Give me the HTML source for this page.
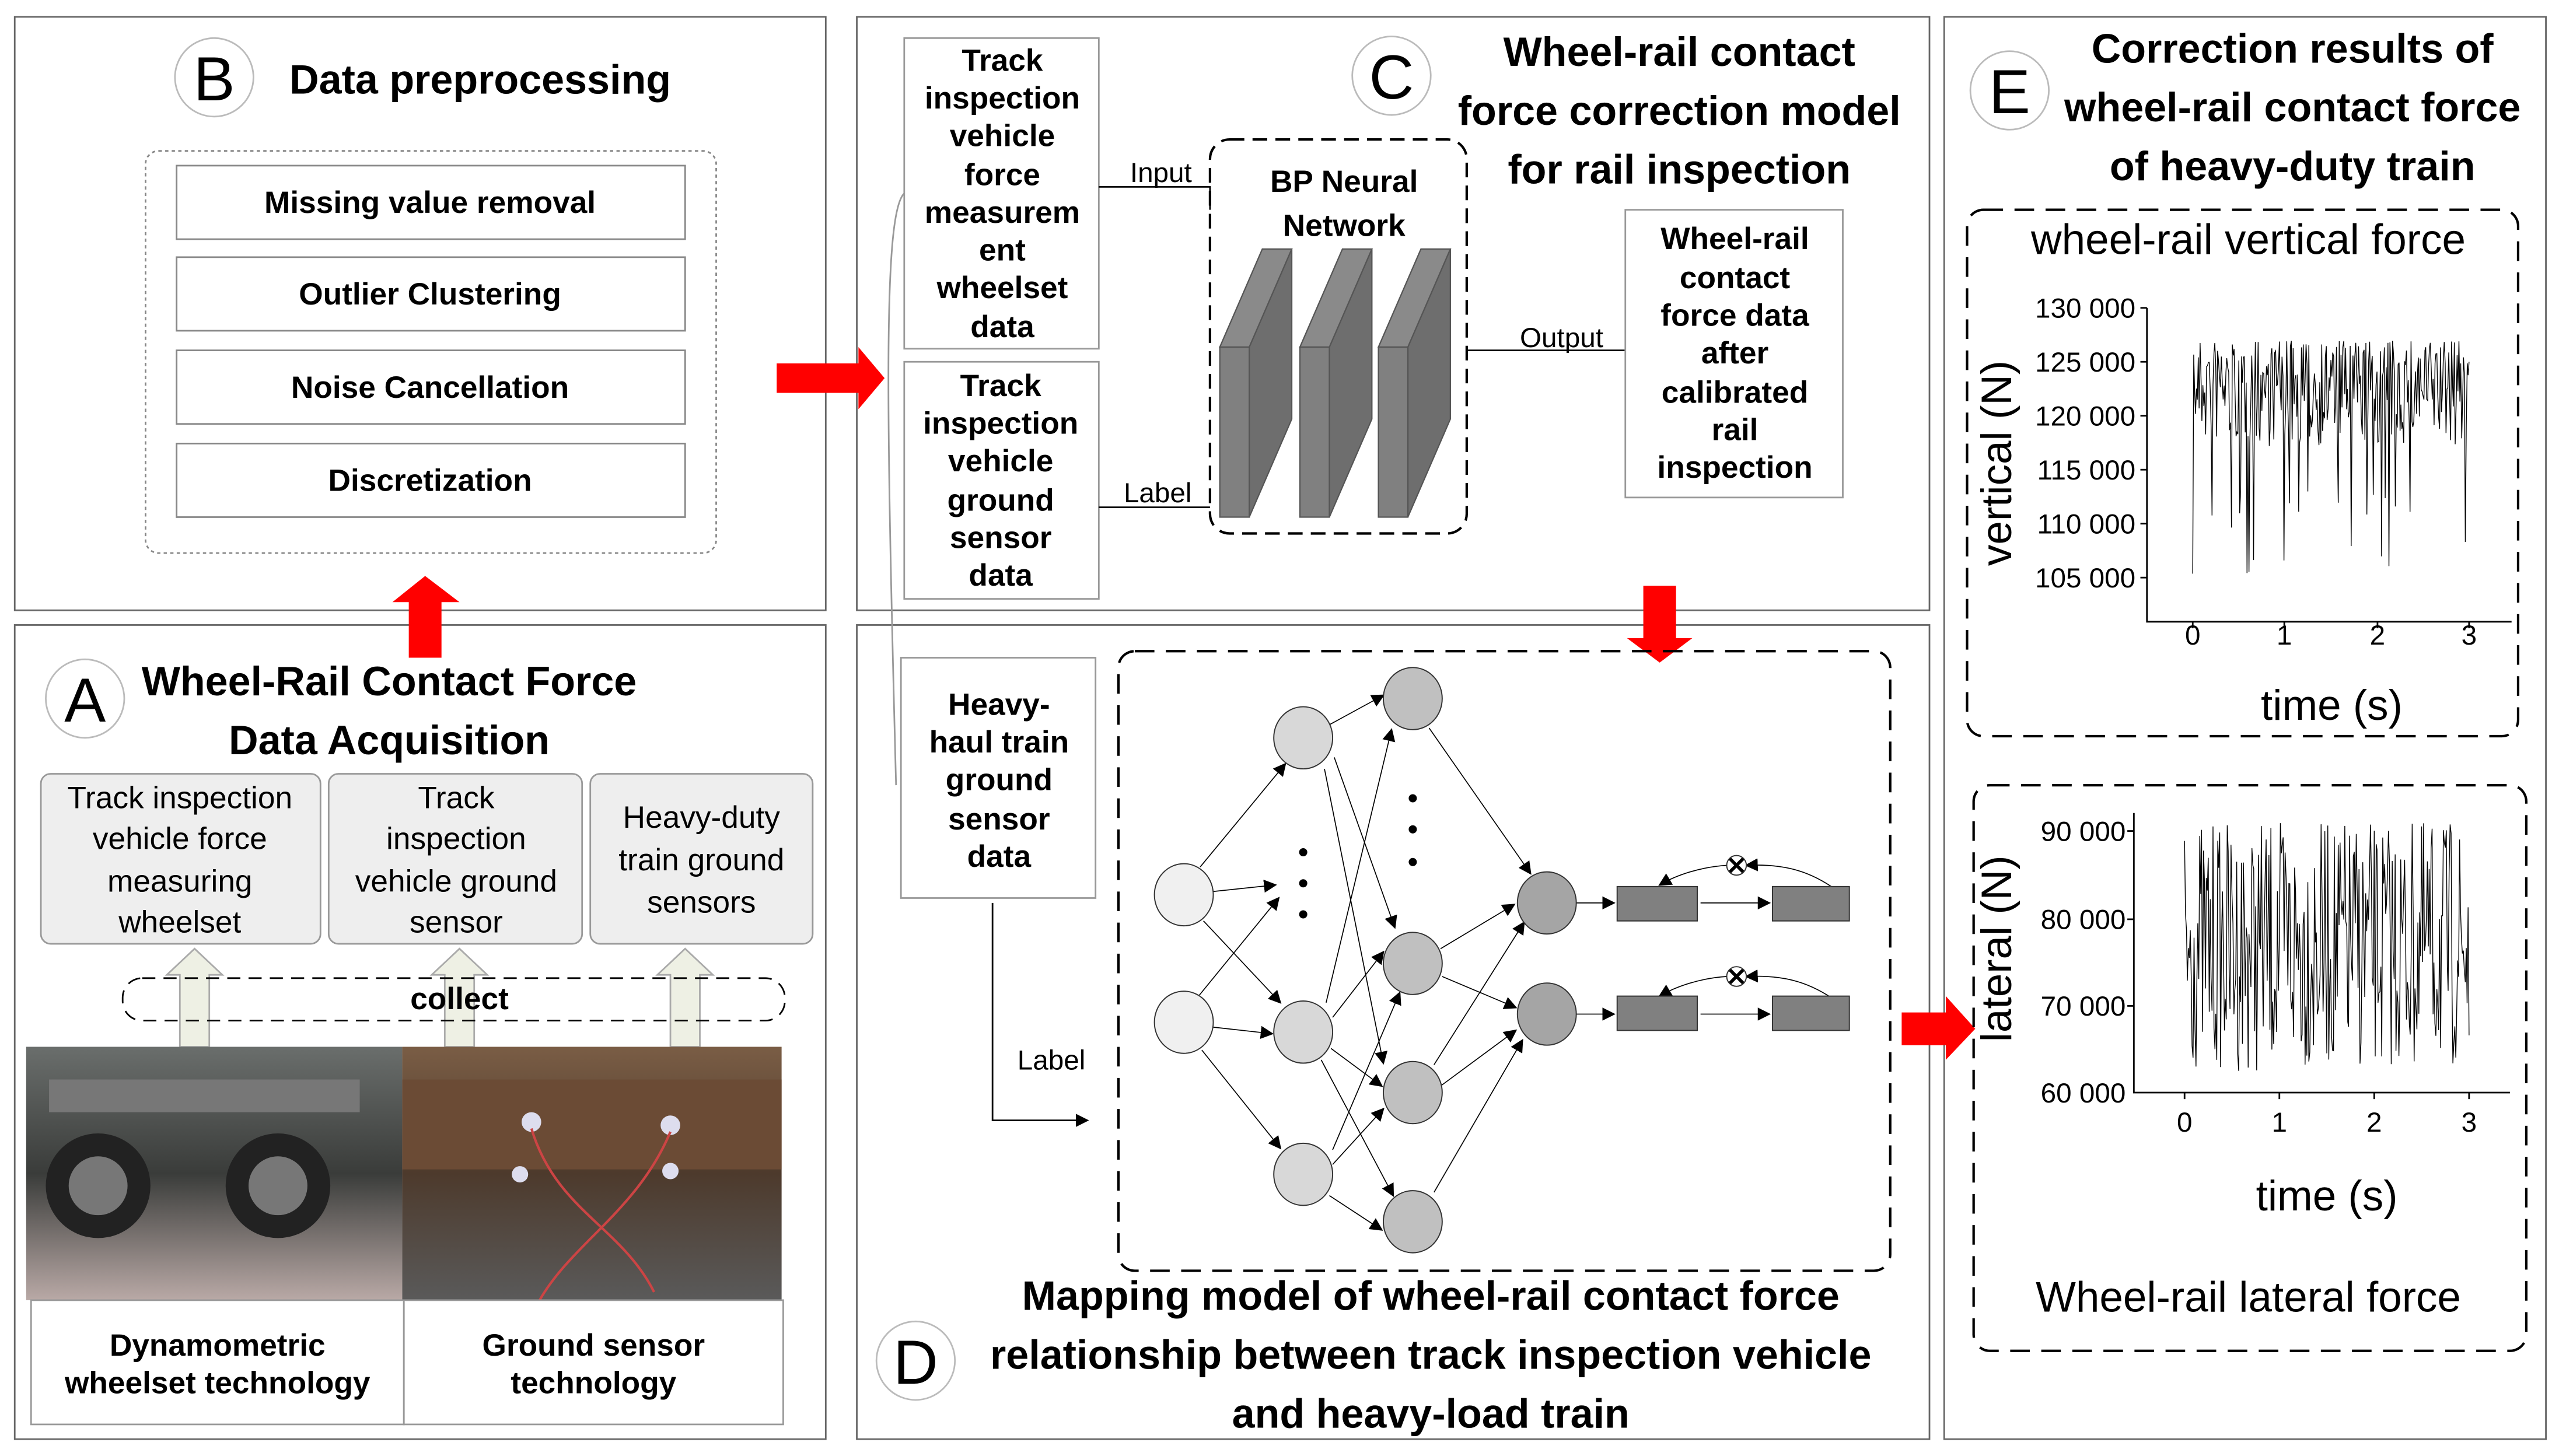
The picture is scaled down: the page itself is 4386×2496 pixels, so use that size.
<!DOCTYPE html>
<html><head><meta charset="utf-8"><style>
html,body{margin:0;padding:0;background:#fff}
svg{display:block}
text{font-family:"Liberation Sans","DejaVu Sans",sans-serif;fill:#000}
.b{font-weight:bold}
</style></head><body>
<svg id="s" width="4386" height="2496" viewBox="0 0 1565 890" xmlns="http://www.w3.org/2000/svg">
<defs>
<marker id="ar" markerWidth="8" markerHeight="8" refX="7" refY="4" orient="auto" markerUnits="userSpaceOnUse"><path d="M0,0 L8,4 L0,8 z" fill="#000"/></marker>
<linearGradient id="p1" x1="0" y1="0" x2="0" y2="1"><stop offset="0" stop-color="#6a6e6c"/><stop offset="0.5" stop-color="#3a3c3a"/><stop offset="1" stop-color="#b9a9a6"/></linearGradient>
<linearGradient id="p2" x1="0" y1="0" x2="0" y2="1"><stop offset="0" stop-color="#7a5d45"/><stop offset="0.5" stop-color="#4d3a2c"/><stop offset="1" stop-color="#5a5a5a"/></linearGradient>
</defs>
<rect width="1565" height="890" fill="#fff"/>
<g fill="none" stroke="#666" stroke-width="1">
<rect x="9" y="10" width="496" height="363"/>
<rect x="9" y="382" width="496" height="498"/>
<rect x="524" y="10" width="656" height="363"/>
<rect x="524" y="382" width="656" height="498"/>
<rect x="1189" y="10" width="368" height="870"/>
</g>
<!-- B -->
<circle cx="131" cy="47" r="24" fill="#fff" stroke="#bbb"/>
<text x="131" y="61" font-size="38" text-anchor="middle" font-family="Liberation Serif">B</text>
<text x="177" y="57" class="b" font-size="25">Data preprocessing</text>
<rect x="89" y="92" width="349" height="246" rx="8" fill="none" stroke="#888" stroke-dasharray="2,2"/>
<g fill="#fff" stroke="#888">
<rect x="108" y="101" width="311" height="45"/><rect x="108" y="157" width="311" height="45"/>
<rect x="108" y="214" width="311" height="45"/><rect x="108" y="271" width="311" height="45"/></g>
<g class="b" font-size="19" text-anchor="middle">
<text x="263" y="130" class="b">Missing value removal</text><text x="263" y="186" class="b">Outlier Clustering</text>
<text x="263" y="243" class="b">Noise Cancellation</text><text x="263" y="300" class="b">Discretization</text></g>
<path d="M250,402 L250,368 L240,368 L260,352 L281,368 L270,368 L270,402 z" fill="#f00"/>
<!-- A -->
<circle cx="52" cy="427" r="24" fill="#fff" stroke="#bbb"/>
<text x="52" y="441" font-size="38" text-anchor="middle" font-family="Liberation Serif">A</text>
<text x="238" y="425" class="b" font-size="25" text-anchor="middle">Wheel-Rail Contact Force</text>
<text x="238" y="461" class="b" font-size="25" text-anchor="middle">Data Acquisition</text>
<g fill="#eee" stroke="#999"><rect x="25" y="473" width="171" height="104" rx="6"/><rect x="201" y="473" width="155" height="104" rx="6"/><rect x="361" y="473" width="136" height="104" rx="6"/></g>
<g font-size="19" text-anchor="middle" fill="#222">
<text x="110" y="494">Track inspection</text><text x="110" y="519">vehicle force</text><text x="110" y="545">measuring</text><text x="110" y="570">wheelset</text>
<text x="279" y="494">Track</text><text x="279" y="519">inspection</text><text x="279" y="545">vehicle ground</text><text x="279" y="570">sensor</text>
<text x="429" y="506">Heavy-duty</text><text x="429" y="532">train ground</text><text x="429" y="558">sensors</text></g>
<g fill="#eef0e4" stroke="#aaa">
<path d="M110,640 L110,596 L102,596 L119,580 L136,596 L128,596 L128,640 z"/>
<path d="M272,640 L272,596 L264,596 L281,580 L298,596 L290,596 L290,640 z"/>
<path d="M410,640 L410,596 L402,596 L419,580 L436,596 L428,596 L428,640 z"/></g>
<rect x="75" y="598" width="405" height="26" rx="12" fill="none" stroke="#000" stroke-dasharray="8,5"/>
<text x="281" y="617" class="b" font-size="19" text-anchor="middle">collect</text>
<rect x="16" y="640" width="230" height="155" fill="url(#p1)"/>
<g fill="#222"><circle cx="60" cy="725" r="32"/><circle cx="170" cy="725" r="32"/></g>
<g fill="#777"><circle cx="60" cy="725" r="18"/><circle cx="170" cy="725" r="18"/><rect x="30" y="660" width="190" height="20"/></g>
<rect x="246" y="640" width="232" height="155" fill="url(#p2)"/>
<rect x="246" y="660" width="232" height="55" fill="#6b4b35"/>
<g fill="#dde"><circle cx="325" cy="686" r="6"/><circle cx="410" cy="688" r="6"/><circle cx="318" cy="718" r="5"/><circle cx="410" cy="716" r="5"/></g>
<g fill="none" stroke="#c44" stroke-width="1.5"><path d="M325,690 C340,740 380,750 400,790"/><path d="M410,692 C390,740 350,760 330,795"/></g>
<g fill="#fff" stroke="#999"><rect x="19" y="795" width="228" height="76"/><rect x="247" y="795" width="232" height="76"/></g>
<g class="b" font-size="19" text-anchor="middle">
<text x="133" y="829" class="b">Dynamometric</text><text x="133" y="852" class="b">wheelset technology</text>
<text x="363" y="829" class="b">Ground sensor</text><text x="363" y="852" class="b">technology</text></g>
<path d="M475,222 L525,222 L525,212 L541,231 L525,250 L525,240 L475,240 z" fill="#f00"/>
<!-- C -->
<path d="M553,118 C540,130 542,250 548,480" fill="none" stroke="#999"/>
<g fill="#fff" stroke="#999"><rect x="553" y="23" width="119" height="190"/><rect x="553" y="221" width="119" height="145"/></g>
<g class="b" font-size="19" text-anchor="middle">
<text x="613" y="43" class="b">Track</text><text x="613" y="66" class="b">inspection</text><text x="613" y="89" class="b">vehicle</text><text x="613" y="113" class="b">force</text><text x="613" y="136" class="b">measurem</text><text x="613" y="159" class="b">ent</text><text x="613" y="182" class="b">wheelset</text><text x="613" y="206" class="b">data</text>
<text x="612" y="242" class="b">Track</text><text x="612" y="265" class="b">inspection</text><text x="612" y="288" class="b">vehicle</text><text x="612" y="312" class="b">ground</text><text x="612" y="335" class="b">sensor</text><text x="612" y="358" class="b">data</text></g>
<path d="M672,114 L740,114 L740,128" fill="none" stroke="#000"/>
<path d="M672,310 L740,310" fill="none" stroke="#000"/>
<text x="710" y="111" font-size="17" text-anchor="middle">Input</text>
<text x="708" y="307" font-size="17" text-anchor="middle">Label</text>
<rect x="740" y="85" width="157" height="241" rx="12" fill="none" stroke="#000" stroke-dasharray="9,5" stroke-width="1.5"/>
<text x="822" y="117" class="b" font-size="19" text-anchor="middle">BP Neural</text>
<text x="822" y="144" class="b" font-size="19" text-anchor="middle">Network</text>
<g id="blk" stroke="#555" stroke-width="0.8">
<polygon points="764,212 790,152 790,256 764,316" fill="#6e6e6e"/>
<polygon points="746,212 772,152 790,152 764,212" fill="#8a8a8a"/>
<rect x="746" y="212" width="18" height="104" fill="#808080"/></g>
<use href="#blk" x="49"/><use href="#blk" x="97"/>
<line x1="897" y1="214" x2="1006" y2="214" stroke="#000" marker-end="url(#ar)"/>
<text x="955" y="212" font-size="17" text-anchor="middle">Output</text>
<rect x="994" y="128" width="133" height="176" fill="#fff" stroke="#999"/>
<g class="b" font-size="19" text-anchor="middle">
<text x="1061" y="152" class="b">Wheel-rail</text><text x="1061" y="176" class="b">contact</text><text x="1061" y="199" class="b">force data</text><text x="1061" y="222" class="b">after</text><text x="1061" y="246" class="b">calibrated</text><text x="1061" y="269" class="b">rail</text><text x="1061" y="292" class="b">inspection</text></g>
<circle cx="851" cy="46" r="24" fill="#fff" stroke="#bbb"/>
<text x="851" y="60" font-size="38" text-anchor="middle" font-family="Liberation Serif">C</text>
<g class="b" font-size="25" text-anchor="middle">
<text x="1027" y="40" class="b">Wheel-rail contact</text><text x="1027" y="76" class="b">force correction model</text><text x="1027" y="112" class="b">for rail inspection</text></g>
<path d="M1005,358 L1025,358 L1025,390 L1035,390 L1015,405 L995,390 L1005,390 z" fill="#f00"/>
<!-- D -->
<rect x="551" y="402" width="119" height="147" fill="#fff" stroke="#999"/>
<g class="b" font-size="19" text-anchor="middle">
<text x="611" y="437" class="b">Heavy-</text><text x="611" y="460" class="b">haul train</text><text x="611" y="483" class="b">ground</text><text x="611" y="507" class="b">sensor</text><text x="611" y="530" class="b">data</text></g>
<path d="M607,552 L607,685 L665,685" fill="none" stroke="#000" marker-end="url(#ar)"/>
<text x="643" y="654" font-size="17" text-anchor="middle">Label</text>
<rect x="684" y="398" width="472" height="379" rx="10" fill="none" stroke="#000" stroke-dasharray="12,7" stroke-width="1.5"/>
<g stroke="#000" stroke-width="0.6" marker-end="url(#ar)" fill="none">
<line x1="734" y1="530" x2="786" y2="467"/><line x1="742" y1="545" x2="780" y2="541"/><line x1="736" y1="563" x2="783" y2="613"/>
<line x1="733" y1="609" x2="782" y2="549"/><line x1="742" y1="628" x2="778" y2="632"/><line x1="735" y1="642" x2="783" y2="702"/>
<line x1="813" y1="443" x2="846" y2="425"/><line x1="816" y1="463" x2="853" y2="567"/><line x1="810" y1="470" x2="846" y2="650"/>
<line x1="811" y1="613" x2="851" y2="446"/><line x1="815" y1="622" x2="846" y2="582"/><line x1="814" y1="641" x2="845" y2="664"/><line x1="808" y1="648" x2="852" y2="731"/>
<line x1="815" y1="703" x2="856" y2="607"/><line x1="815" y1="712" x2="846" y2="678"/><line x1="813" y1="731" x2="845" y2="752"/>
<line x1="874" y1="445" x2="936" y2="534"/><line x1="881" y1="580" x2="926" y2="553"/><line x1="882" y1="597" x2="927" y2="616"/>
<line x1="877" y1="651" x2="932" y2="564"/><line x1="881" y1="664" x2="927" y2="630"/><line x1="877" y1="729" x2="931" y2="636"/>
<line x1="964" y1="552" x2="987" y2="552"/><line x1="964" y1="620" x2="987" y2="620"/>
<line x1="1040" y1="552" x2="1082" y2="552"/><line x1="1040" y1="620" x2="1082" y2="620"/>
<path d="M1120,542 C1105,532 1090,528 1068,529"/><path d="M1056,529 C1040,530 1025,535 1015,541"/>
<path d="M1120,610 C1105,600 1090,596 1068,597"/><path d="M1056,597 C1040,598 1025,603 1015,609"/>
</g>
<g stroke="#333" stroke-width="0.7">
<ellipse cx="724" cy="547" rx="18" ry="19" fill="#f0f0f0"/><ellipse cx="724" cy="625" rx="18" ry="19" fill="#f0f0f0"/>
<ellipse cx="797" cy="451" rx="18" ry="19" fill="#d8d8d8"/><ellipse cx="797" cy="631" rx="18" ry="19" fill="#d8d8d8"/><ellipse cx="797" cy="718" rx="18" ry="19" fill="#d8d8d8"/>
<ellipse cx="864" cy="427" rx="18" ry="19" fill="#c0c0c0"/><ellipse cx="864" cy="589" rx="18" ry="19" fill="#c0c0c0"/><ellipse cx="864" cy="668" rx="18" ry="19" fill="#c0c0c0"/><ellipse cx="864" cy="747" rx="18" ry="19" fill="#c0c0c0"/>
<ellipse cx="946" cy="552" rx="18" ry="19" fill="#a5a5a5"/><ellipse cx="946" cy="620" rx="18" ry="19" fill="#a5a5a5"/>
<rect x="989" y="542" width="49" height="21" fill="#808080"/><rect x="1084" y="542" width="47" height="21" fill="#808080"/>
<rect x="989" y="609" width="49" height="21" fill="#808080"/><rect x="1084" y="609" width="47" height="21" fill="#808080"/>
<circle cx="1062" cy="529" r="6" fill="#fff"/><circle cx="1062" cy="597" r="6" fill="#fff"/></g>
<g stroke="#000" stroke-width="2"><path d="M1058,525 L1066,533 M1066,525 L1058,533"/><path d="M1058,593 L1066,601 M1066,593 L1058,601"/></g>
<g fill="#000"><circle cx="797" cy="521" r="2.5"/><circle cx="797" cy="540" r="2.5"/><circle cx="797" cy="559" r="2.5"/>
<circle cx="864" cy="488" r="2.5"/><circle cx="864" cy="507" r="2.5"/><circle cx="864" cy="527" r="2.5"/></g>
<circle cx="560" cy="832" r="24" fill="#fff" stroke="#bbb"/>
<text x="560" y="846" font-size="38" text-anchor="middle" font-family="Liberation Serif">D</text>
<g class="b" font-size="25" text-anchor="middle">
<text x="875" y="801" class="b">Mapping model of wheel-rail contact force</text>
<text x="875" y="837" class="b">relationship between track inspection vehicle</text>
<text x="875" y="873" class="b">and heavy-load train</text></g>
<path d="M1163,619 L1190,619 L1190,609 L1208,629 L1190,648 L1190,639 L1163,639 z" fill="#f00"/>
<!-- E -->
<circle cx="1229" cy="55" r="24" fill="#fff" stroke="#bbb"/>
<text x="1229" y="69" font-size="38" text-anchor="middle" font-family="Liberation Serif">E</text>
<g class="b" font-size="25" text-anchor="middle">
<text x="1402" y="38" class="b">Correction results of</text><text x="1402" y="74" class="b">wheel-rail contact force</text><text x="1402" y="110" class="b">of heavy-duty train</text></g>
<rect x="1203" y="128" width="337" height="322" rx="10" fill="none" stroke="#000" stroke-dasharray="12,7" stroke-width="1.5"/>
<text x="1375" y="155" font-size="26" text-anchor="middle">wheel-rail vertical force</text>
<path d="M1313,188 L1313,380 L1536,380" fill="none" stroke="#000"/>
<g stroke="#000"><line x1="1309" y1="188" x2="1313" y2="188"/><line x1="1309" y1="221" x2="1313" y2="221"/><line x1="1309" y1="254" x2="1313" y2="254"/><line x1="1309" y1="287" x2="1313" y2="287"/><line x1="1309" y1="320" x2="1313" y2="320"/><line x1="1309" y1="353" x2="1313" y2="353"/>
<line x1="1341" y1="380" x2="1341" y2="384"/><line x1="1397" y1="380" x2="1397" y2="384"/><line x1="1454" y1="380" x2="1454" y2="384"/><line x1="1510" y1="380" x2="1510" y2="384"/></g>
<g font-size="17" text-anchor="end">
<text x="1306" y="194">130 000</text><text x="1306" y="227">125 000</text><text x="1306" y="260">120 000</text><text x="1306" y="293">115 000</text><text x="1306" y="326">110 000</text><text x="1306" y="359">105 000</text></g>
<g font-size="17" text-anchor="middle"><text x="1341" y="394">0</text><text x="1397" y="394">1</text><text x="1454" y="394">2</text><text x="1510" y="394">3</text></g>
<text transform="translate(1230,283) rotate(-90)" font-size="26" text-anchor="middle">vertical (N)</text>
<text x="1426" y="440" font-size="26" text-anchor="middle">time (s)</text>
<polyline id="sig1" fill="none" stroke="#000" stroke-width="0.5" points=""/>
<rect x="1207" y="480" width="338" height="346" rx="10" fill="none" stroke="#000" stroke-dasharray="12,7" stroke-width="1.5"/>
<path d="M1305,497 L1305,668 L1535,668" fill="none" stroke="#000"/>
<g stroke="#000"><line x1="1301" y1="508" x2="1305" y2="508"/><line x1="1301" y1="562" x2="1305" y2="562"/><line x1="1301" y1="615" x2="1305" y2="615"/>
<line x1="1336" y1="668" x2="1336" y2="672"/><line x1="1394" y1="668" x2="1394" y2="672"/><line x1="1452" y1="668" x2="1452" y2="672"/><line x1="1510" y1="668" x2="1510" y2="672"/></g>
<g font-size="17" text-anchor="end"><text x="1300" y="514">90 000</text><text x="1300" y="568">80 000</text><text x="1300" y="621">70 000</text><text x="1300" y="674">60 000</text></g>
<g font-size="17" text-anchor="middle"><text x="1336" y="692">0</text><text x="1394" y="692">1</text><text x="1452" y="692">2</text><text x="1510" y="692">3</text></g>
<text transform="translate(1230,580) rotate(-90)" font-size="26" text-anchor="middle">lateral (N)</text>
<text x="1423" y="740" font-size="26" text-anchor="middle">time (s)</text>
<text x="1375" y="802" font-size="26" text-anchor="middle">Wheel-rail lateral force</text>
<polyline id="sig2" fill="none" stroke="#000" stroke-width="0.5" points=""/>
</svg>
<script>
var seed=7;function r(){seed=(seed*16807)%2147483647;return (seed-1)/2147483646;}
var p=[];for(var i=0;i<=300;i++){var x=1341+i*169/300;var v=r();var y=v<0.08?300+r()*55:208+Math.pow(r(),1.3)*65;p.push(x.toFixed(1)+","+y.toFixed(1));}
document.getElementById("sig1").setAttribute("points",p.join(" "));
p=[];for(i=0;i<=300;i++){x=1336+i*174/300;y=503+r()*152;p.push(x.toFixed(1)+","+y.toFixed(1));}
document.getElementById("sig2").setAttribute("points",p.join(" "));
</script>
</body></html>
